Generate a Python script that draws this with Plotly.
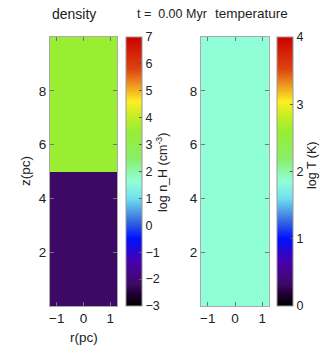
import plotly.graph_objects as go

# Grid edges (pc) and cell values
r_edges = [-1.25, 1.25]
z_edges_density = [0.0, 5.0, 10.0]
log_density = [[-2.2], [3.5]]          # log n_H per z-layer (bottom, top)
z_edges_temp = [0.0, 10.0]
log_temperature = [[1.85]]             # log T, uniform

density_ticks = [-3, -2, -1, 0, 1, 2, 3, 4, 5, 6, 7]
temp_ticks = [0, 1, 2, 3, 4]
axis_ticks_r = [-1, 0, 1]
axis_ticks_z = [2, 4, 6, 8]

W, H = 335, 360

# black -> purple -> blue -> cyan -> green -> yellow -> red
rainbow = [
    [0.00, "#000000"],
    [0.05, "#220038"],
    [0.08, "#3c0a64"],
    [0.16, "#4a00a8"],
    [0.25, "#0010ff"],
    [0.32, "#3a70e0"],
    [0.40, "#70e0f0"],
    [0.4625, "#90ffd8"],
    [0.55, "#88ee66"],
    [0.65, "#99ee33"],
    [0.71, "#c8ee22"],
    [0.76, "#ffee22"],
    [0.82, "#ee9922"],
    [0.88, "#dd4411"],
    [1.00, "#cc0000"],
]

font_family = "Liberation Sans, Arial, sans-serif"
txt = "#222222"


def px_x(p):
    return p / W


def px_y(p):
    return 1 - p / H


top, bottom = 37, 306


def colorbar(x_left, ticks):
    return dict(
        x=px_x(x_left), xanchor="left", xpad=0,
        y=px_y(bottom), yanchor="bottom", ypad=0,
        len=bottom - top, lenmode="pixels",
        thickness=16, thicknessmode="pixels",
        outlinecolor="#999999", outlinewidth=1,
        tickvals=ticks, ticks="inside", ticklen=3,
        tickcolor="#555555",
        tickfont=dict(family=font_family, size=12.5, color=txt),
    )


fig = go.Figure()

fig.add_trace(go.Heatmap(
    x=r_edges, y=z_edges_density, z=log_density,
    zmin=-3, zmax=7, colorscale=rainbow, zsmooth=False,
    xaxis="x", yaxis="y", colorbar=colorbar(126, density_ticks),
))

fig.add_trace(go.Heatmap(
    x=r_edges, y=z_edges_temp, z=log_temperature,
    zmin=0, zmax=4, colorscale=rainbow, zsmooth=False,
    xaxis="x2", yaxis="y2", colorbar=colorbar(277, temp_ticks),
))

common_x = dict(
    range=[-1.25, 1.25], tickvals=axis_ticks_r, ticks="inside", ticklen=4,
    tickcolor="#777777", showline=True, linecolor="#aaaaaa", linewidth=1,
    mirror="allticks", showgrid=False, zeroline=False,
    tickfont=dict(family=font_family, size=13.5, color=txt),
)
common_y = dict(
    range=[0, 10], tickvals=axis_ticks_z, ticks="inside", ticklen=4,
    tickcolor="#777777", showline=True, linecolor="#aaaaaa", linewidth=1,
    mirror="allticks", showgrid=False, zeroline=False,
    tickfont=dict(family=font_family, size=13.5, color=txt),
)

fig.update_layout(
    width=W, height=H,
    margin=dict(l=0, r=0, t=0, b=0),
    paper_bgcolor="white", plot_bgcolor="white",
    font=dict(family=font_family, color=txt),
    showlegend=False,
    xaxis=dict(domain=[px_x(50), px_x(117)], anchor="y", **common_x),
    yaxis=dict(domain=[px_y(bottom), px_y(top)], anchor="x", **common_y),
    xaxis2=dict(domain=[px_x(201), px_x(269)], anchor="y2", **common_x),
    yaxis2=dict(domain=[px_y(bottom), px_y(top)], anchor="x2", **common_y),
)

annotations = [
    dict(text="density", x=px_x(50), y=px_y(14), xanchor="left", size=14),
    dict(text="t =\u00a0\u00a00.00 Myr", x=px_x(172), y=px_y(14), size=12.5),
    dict(text="temperature", x=px_x(213), y=px_y(14), xanchor="left",
         size=13.5),
    dict(text="r(pc)", x=px_x(84), y=px_y(337), size=13.5),
    dict(text="z(pc)", x=px_x(25), y=px_y(171), textangle=-90, size=13.5),
    dict(text="log n_H (cm<sup>-3</sup>)", x=px_x(162), y=px_y(173),
         textangle=-90, size=12.5),
    dict(text="log T (K)", x=px_x(312), y=px_y(166), textangle=-90, size=12.5),
]
for a in annotations:
    fig.add_annotation(
        text=a["text"], x=a["x"], y=a["y"], xref="paper", yref="paper",
        xanchor=a.get("xanchor", "center"), yanchor="middle", showarrow=False,
        textangle=a.get("textangle", 0),
        font=dict(family=font_family, size=a["size"], color=txt),
    )

fig.write_html("out.html")
